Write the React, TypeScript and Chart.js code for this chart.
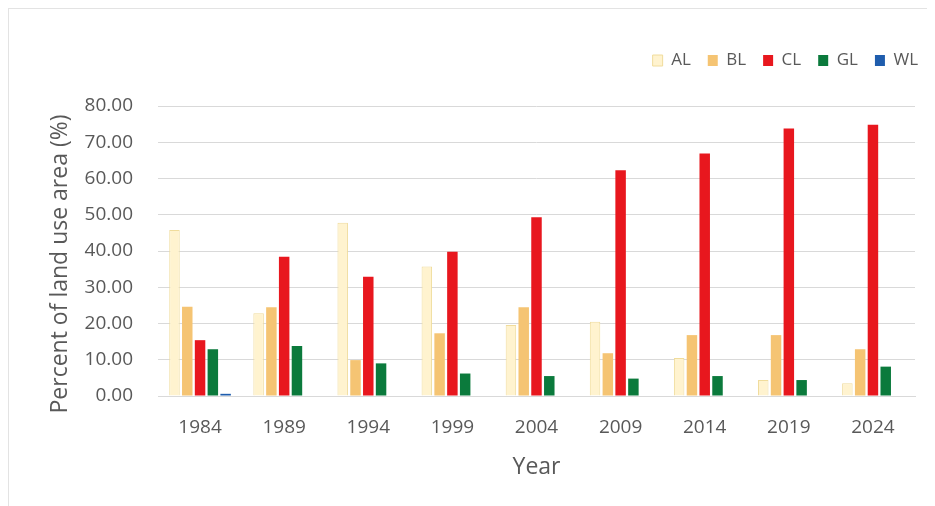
import React, { useEffect, useRef } from "react";
import { Chart, registerables } from "chart.js";

Chart.register(...registerables);

// Land use share per survey year (%)
const years = ["1984", "1989", "1994", "1999", "2004", "2009", "2014", "2019", "2024"];
const alValues = [45.8, 22.8, 47.8, 35.7, 19.6, 20.5, 10.5, 4.4, 3.5];
const blValues = [24.6, 24.5, 9.9, 17.3, 24.5, 11.8, 16.8, 16.8, 12.9];
const clValues = [15.4, 38.4, 32.9, 39.8, 49.3, 62.3, 66.9, 73.8, 74.8];
const glValues = [12.9, 13.8, 9.0, 6.2, 5.5, 4.8, 5.5, 4.4, 8.1];
const wlValues = [0.6, 0, 0, 0, 0, 0, 0, 0, 0];
const seriesNames = ["AL", "BL", "CL", "GL", "WL"];
const yTicks = [0, 10, 20, 30, 40, 50, 60, 70, 80];
const yTitle = "Percent of land use area (%)";
const xTitle = "Year";

const FONT = "'Open Sans', 'DejaVu Sans', sans-serif";
const TEXT = "#595959";

// Vertical axis title, drawn beside the value axis and a little below its middle
const yTitlePlugin = {
  id: "yTitle",
  afterDraw(chart: any) {
    const { ctx, chartArea, scales } = chart;
    const x = scales.y.left + 17;
    const y = (chartArea.top + chartArea.bottom) / 2 + 13;
    ctx.save();
    ctx.translate(x, y);
    ctx.rotate(-Math.PI / 2);
    ctx.textAlign = "center";
    ctx.textBaseline = "middle";
    ctx.fillStyle = TEXT;
    ctx.font = `23px ${FONT}`;
    ctx.fillText(yTitle, 0, 0);
    ctx.restore();
  },
};

export default function App() {
  const canvasRef = useRef<HTMLCanvasElement | null>(null);

  useEffect(() => {
    if (!canvasRef.current) return;
    const fills = ["#FFF3CF", "#F5C473", "#E8171E", "#0B7A3C", "#1F5DAD"];
    const borders = ["#F0DC9C", "#F5C473", "#E8171E", "#0B7A3C", "#1F5DAD"];
    const values = [alValues, blValues, clValues, glValues, wlValues];

    const chart = new Chart(canvasRef.current, {
      type: "bar",
      data: {
        labels: years,
        datasets: seriesNames.map((name, i) => ({
          label: name,
          data: values[i],
          backgroundColor: fills[i],
          borderColor: borders[i],
          borderWidth: i === 0 ? 1 : 0,
          categoryPercentage: 0.76,
          barPercentage: 0.82,
        })),
      },
      plugins: [yTitlePlugin],
      options: {
        animation: false,
        responsive: true,
        maintainAspectRatio: false,
        layout: { padding: { top: 26, right: 0, bottom: 21, left: 34 } },
        plugins: {
          tooltip: { enabled: false },
          legend: {
            position: "top",
            align: "end",
            labels: {
              boxWidth: 10,
              boxHeight: 11,
              padding: 17,
              color: TEXT,
              font: { family: FONT, size: 17 },
            },
          },
        },
        scales: {
          x: {
            type: "category",
            grid: { display: false },
            border: { display: true, color: "#D9D9D9" },
            ticks: { color: TEXT, font: { family: FONT, size: 19 }, padding: 12 },
            title: {
              display: true,
              text: xTitle,
              color: TEXT,
              font: { family: FONT, size: 23 },
            },
            afterFit: (s: any) => {
              s.height = 89;
            },
          },
          xTop: {
            type: "linear",
            axis: "x",
            position: "top",
            display: true,
            grid: { display: false },
            border: { display: false },
            ticks: { display: false },
            afterFit: (s: any) => {
              s.height = 27;
            },
          },
          y: {
            type: "linear",
            min: 0,
            max: 80,
            afterBuildTicks: (s: any) => {
              s.ticks = yTicks.map((v) => ({ value: v }));
            },
            grid: { color: "#D9D9D9", drawTicks: false },
            border: { display: false },
            ticks: {
              color: TEXT,
              font: { family: FONT, size: 19 },
              padding: 25,
              callback: (v: any) => Number(v).toFixed(2),
            },
            afterFit: (s: any) => {
              s.width = 115;
            },
          },
          yRight: {
            type: "linear",
            axis: "y",
            position: "right",
            display: true,
            grid: { display: false },
            border: { display: false },
            ticks: { display: false },
            afterFit: (s: any) => {
              s.width = 20;
            },
          },
        },
      } as any,
    });

    return () => chart.destroy();
  }, []);

  return (
    <div
      style={{
        position: "relative",
        width: 927,
        height: 498,
        boxSizing: "border-box",
        borderTop: "1px solid #E3E3E3",
        borderLeft: "1px solid #E3E3E3",
        background: "#fff",
      }}
    >
      <canvas ref={canvasRef} />
    </div>
  );
}
